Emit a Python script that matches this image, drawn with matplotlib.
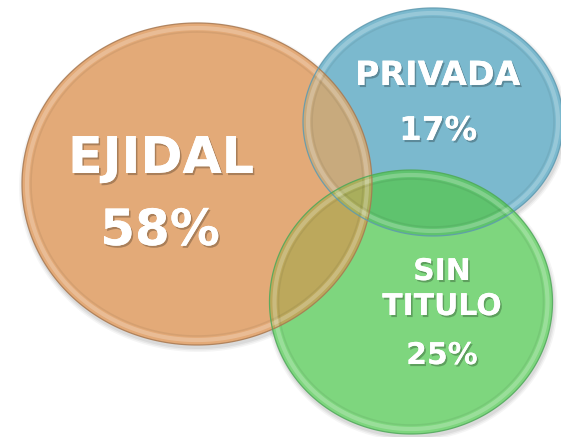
import numpy as np
import matplotlib
matplotlib.use("Agg")
import matplotlib.pyplot as plt
from matplotlib.patches import Polygon
import matplotlib.patheffects as pe

# ---- data ----
categories = ["EJIDAL", "PRIVADA", "SIN\nTITULO"]
values = [58, 17, 25]

# ---- layout (pixel space) ----
centers_x = [197, 433, 411]
centers_y = [184, 122, 302]
radii_x = [175, 130, 141.5]
radii_y = [161, 114, 132]
face_colors = ["#E3AA78", "#7BB9CE", "#7ED67E"]
edge_colors = ["#A87850", "#5E9AB0", "#4FA85A"]
overlap_colors = {(0, 1): "#C8AA7D", (0, 2): "#BCA85C", (1, 2): "#5FC36E"}
triple_color = "#A9AE5C"

name_pos = [(161, 173), (438, 85), (442, 280)]
value_pos = [(160, 245), (438, 140), (442, 364)]
name_size = [36.5, 24, 21.5]
value_size = [36, 23.5, 21.5]


def ellipse_poly(i, inset=0.0, n=400):
    t = np.linspace(0, 2 * np.pi, n, endpoint=False)
    return np.column_stack([centers_x[i] + (radii_x[i] - inset) * np.cos(t),
                            centers_y[i] + (radii_y[i] - inset) * np.sin(t)])


def clip_poly(subject, clipper):
    # Sutherland-Hodgman (clipper convex, CCW in data coords)
    def inside(p, a, b):
        return (b[0] - a[0]) * (p[1] - a[1]) - (b[1] - a[1]) * (p[0] - a[0]) >= 0

    def inter(p1, p2, a, b):
        x1, y1 = p1; x2, y2 = p2; x3, y3 = a; x4, y4 = b
        den = (x1 - x2) * (y3 - y4) - (y1 - y2) * (x3 - x4)
        if den == 0:
            return p2
        tt = ((x1 - x3) * (y3 - y4) - (y1 - y3) * (x3 - x4)) / den
        return (x1 + tt * (x2 - x1), y1 + tt * (y2 - y1))

    out = [tuple(p) for p in subject]
    m = len(clipper)
    for k in range(m):
        a = clipper[k]; b = clipper[(k + 1) % m]
        inp = out
        out = []
        if not inp:
            break
        s = inp[-1]
        for e in inp:
            if inside(e, a, b):
                if not inside(s, a, b):
                    out.append(inter(s, e, a, b))
                out.append(e)
            elif inside(s, a, b):
                out.append(inter(s, e, a, b))
            s = e
    return np.array(out)


fig = plt.figure(figsize=(5.61, 4.37), dpi=100)
ax = fig.add_axes([0, 0, 1, 1])
ax.set_xlim(0, 561)
ax.set_ylim(437, 0)
ax.axis("off")

# soft shadows
for i in range(3):
    for k, a in enumerate([0.06, 0.05, 0.04]):
        p = ellipse_poly(i, inset=-1 - k * 1.5)
        p[:, 1] += 3
        p[:, 0] += 1
        ax.add_patch(Polygon(p, closed=True, facecolor="#000000", alpha=a,
                             edgecolor="none", zorder=0))

polys = [ellipse_poly(i, n=240) for i in range(3)]
for i in range(3):
    ax.add_patch(Polygon(polys[i], closed=True, facecolor=face_colors[i],
                         edgecolor="none", zorder=1))

for (a, b), col in overlap_colors.items():
    ov = clip_poly(polys[b], polys[a])
    if len(ov) > 2:
        ax.add_patch(Polygon(ov, closed=True, facecolor=col, edgecolor="none", zorder=2))

tri = clip_poly(clip_poly(polys[2], polys[1]), polys[0])
if len(tri) > 2:
    ax.add_patch(Polygon(tri, closed=True, facecolor=triple_color, edgecolor="none", zorder=3))

# rims / bevel
for i in range(3):
    ax.add_patch(Polygon(ellipse_poly(i, inset=5), closed=True, facecolor="none",
                         edgecolor="white", lw=3.0, alpha=0.22, zorder=4))
    ax.add_patch(Polygon(ellipse_poly(i, inset=9), closed=True, facecolor="none",
                         edgecolor="#000000", lw=1.2, alpha=0.06, zorder=4))
    ax.add_patch(Polygon(ellipse_poly(i), closed=True, facecolor="none",
                         edgecolor=edge_colors[i], lw=0.9, alpha=0.85, zorder=5))

shadow = [pe.withSimplePatchShadow(offset=(1.2, -1.5), shadow_rgbFace="#000000", alpha=0.25),
          pe.Normal()]

for i in range(3):
    names = categories[i].split("\n")
    for j, nm in enumerate(names):
        ax.text(name_pos[i][0], name_pos[i][1] + 35 * j, nm, ha="center", va="baseline",
                fontsize=name_size[i], fontweight="bold", color="white",
                family="DejaVu Sans", path_effects=shadow, zorder=10)
    ax.text(value_pos[i][0], value_pos[i][1], f"{values[i]}%", ha="center", va="baseline",
            fontsize=value_size[i], fontweight="bold", color="white",
            family="DejaVu Sans", path_effects=shadow, zorder=10)

fig.savefig("out.png", dpi=100)
